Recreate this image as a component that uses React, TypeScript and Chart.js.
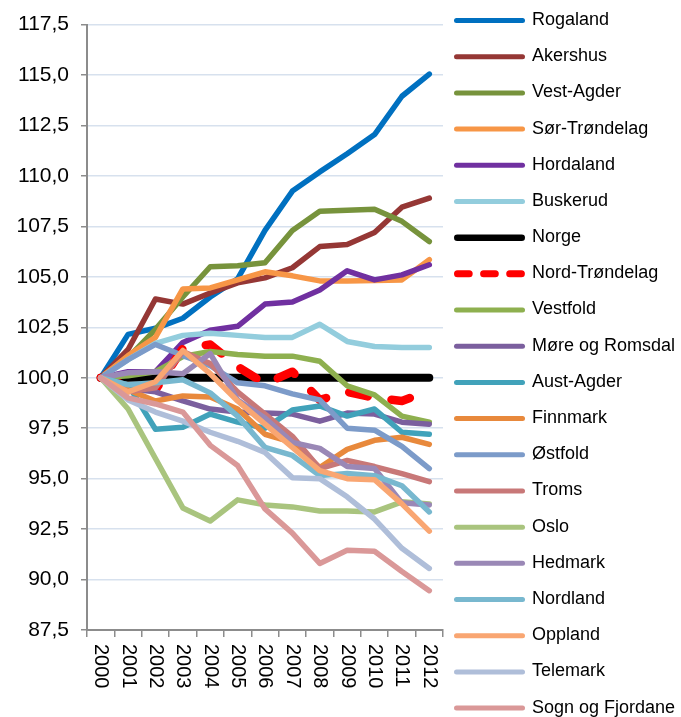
import React, { useEffect, useRef } from 'react';
import { Chart, registerables } from 'chart.js';

Chart.register(...registerables);

// ---------- DATA ----------
const YEARS = ['2000', '2001', '2002', '2003', '2004', '2005', '2006', '2007', '2008', '2009', '2010', '2011', '2012'];
const Y_TICKS = [87.5, 90, 92.5, 95, 97.5, 100, 102.5, 105, 107.5, 110, 112.5, 115, 117.5];

const ROGALAND = [100, 102.15, 102.45, 102.95, 104.0, 104.9, 107.3, 109.25, 110.2, 111.1, 112.05, 113.95, 115.05];
const AKERSHUS = [100, 101.4, 103.9, 103.65, 104.2, 104.7, 104.95, 105.45, 106.5, 106.6, 107.2, 108.45, 108.9];
const VEST_AGDER = [100, 101.0, 102.4, 104.0, 105.5, 105.55, 105.7, 107.3, 108.25, 108.3, 108.35, 107.75, 106.75];
const SOR_TRONDELAG = [100, 101.1, 102.0, 104.4, 104.45, 104.85, 105.25, 105.05, 104.8, 104.8, 104.82, 104.85, 105.85];
const HORDALAND = [100, 100.3, 100.3, 101.75, 102.35, 102.55, 103.65, 103.75, 104.35, 105.3, 104.85, 105.1, 105.6];
const BUSKERUD = [100, 100.9, 101.7, 102.1, 102.2, 102.1, 102.0, 102.0, 102.65, 101.8, 101.55, 101.5, 101.5];
const NORGE = [100, 100, 100, 100, 100, 100, 100, 100, 100, 100, 100, 100, 100];
const NORD_TRONDELAG = [100, 99.6, 99.4, 101.45, 101.65, 100.55, 99.7, 100.3, 98.9, 99.3, 99.0, 98.85, 99.35];
const VESTFOLD = [100, 100.1, 100.3, 101.05, 101.3, 101.15, 101.07, 101.07, 100.82, 99.6, 99.15, 98.1, 97.8];
const MORE_OG_ROMSDAL = [100, 99.45, 99.3, 98.85, 98.45, 98.3, 98.25, 98.2, 97.85, 98.25, 98.2, 97.8, 97.7];
const AUST_AGDER = [100, 99.65, 97.45, 97.55, 98.2, 97.8, 97.5, 98.4, 98.6, 98.1, 98.45, 97.3, 97.2];
const FINNMARK = [100, 99.4, 98.85, 99.1, 99.05, 98.45, 97.2, 96.8, 95.55, 96.45, 96.9, 97.05, 96.7];
const OSTFOLD = [100, 100.9, 101.65, 101.1, 100.6, 99.75, 99.6, 99.2, 98.9, 97.5, 97.4, 96.6, 95.5];
const TROMS = [100, 99.3, 99.5, 101.3, 100.7, 99.3, 98.2, 97.1, 95.5, 95.9, 95.6, 95.25, 94.85];
const OSLO = [100, 98.45, 96.0, 93.55, 92.9, 93.95, 93.7, 93.6, 93.4, 93.4, 93.35, 93.85, 93.75];
const HEDMARK = [100, 100.25, 100.3, 100.2, 101.2, 98.9, 98.0, 96.8, 96.5, 95.6, 95.5, 93.8, 93.7];
const NORDLAND = [100, 99.65, 99.75, 99.9, 99.25, 98.1, 96.55, 96.15, 95.15, 95.25, 95.15, 94.65, 93.35];
const OPPLAND = [100, 99.3, 99.8, 101.35, 100.2, 98.85, 97.7, 96.55, 95.4, 95.0, 94.95, 93.75, 92.4];
const TELEMARK = [100, 98.9, 98.3, 97.85, 97.3, 96.85, 96.3, 95.05, 95.0, 94.1, 93.0, 91.55, 90.55];
const SOGN_OG_FJORDANE = [100, 99.0, 98.7, 98.3, 96.65, 95.65, 93.5, 92.3, 90.8, 91.45, 91.4, 90.4, 89.45];

// ---------- STYLE ----------
type Series = {
  label: string;
  data: number[];
  color: string;
  width?: number;
  dash?: number[];
  legendWidth?: number;
  legendDash?: number[];
};

const SERIES: Series[] = [
  { label: 'Rogaland', data: ROGALAND, color: '#0070C0' },
  { label: 'Akershus', data: AKERSHUS, color: '#953735' },
  { label: 'Vest-Agder', data: VEST_AGDER, color: '#77933C' },
  { label: 'Sør-Trøndelag', data: SOR_TRONDELAG, color: '#F79646' },
  { label: 'Hordaland', data: HORDALAND, color: '#7030A0' },
  { label: 'Buskerud', data: BUSKERUD, color: '#93CDDD' },
  { label: 'Norge', data: NORGE, color: '#000000', width: 8, legendWidth: 6.5 },
  { label: 'Nord-Trøndelag', data: NORD_TRONDELAG, color: '#FF0000', width: 8.5, dash: [19, 24], legendWidth: 7, legendDash: [11.7, 14.4] },
  { label: 'Vestfold', data: VESTFOLD, color: '#8EB04F' },
  { label: 'Møre og Romsdal', data: MORE_OG_ROMSDAL, color: '#7B5F9E' },
  { label: 'Aust-Agder', data: AUST_AGDER, color: '#41A2BA' },
  { label: 'Finnmark', data: FINNMARK, color: '#E8893C' },
  { label: 'Østfold', data: OSTFOLD, color: '#7C9BC9' },
  { label: 'Troms', data: TROMS, color: '#C87878' },
  { label: 'Oslo', data: OSLO, color: '#A9C47E' },
  { label: 'Hedmark', data: HEDMARK, color: '#9A88B6' },
  { label: 'Nordland', data: NORDLAND, color: '#78B8CF' },
  { label: 'Oppland', data: OPPLAND, color: '#F9A672' },
  { label: 'Telemark', data: TELEMARK, color: '#AFBED9' },
  { label: 'Sogn og Fjordane', data: SOGN_OG_FJORDANE, color: '#DA9898' },
];

const FONT = '"Liberation Sans", Arial, Helvetica, sans-serif';
const W = 681;
const H = 717;
const PLOT_LEFT = 87;
const PLOT_RIGHT = 443;
const PLOT_TOP = 22;
const PLOT_BOTTOM = 630;
const AXIS_GREY = '#8C8C8C';
const GRID_BLUE = '#D7E1EE';

const fmt = (v: number) => v.toFixed(1).replace('.', ',');

// Legend drawn at the right, one row per series
const sideLegend = {
  id: 'sideLegend',
  afterDraw(chart: any) {
    const ctx = chart.ctx as CanvasRenderingContext2D;
    SERIES.forEach((s, i) => {
      const y = 20.5 + i * 36.19;
      const lw = s.legendWidth ?? 5;
      ctx.save();
      ctx.beginPath();
      ctx.strokeStyle = s.color;
      ctx.lineWidth = lw;
      ctx.lineCap = 'round';
      ctx.setLineDash(s.legendDash ?? []);
      ctx.moveTo(454 + lw / 2, y);
      ctx.lineTo(525 - lw / 2, y);
      ctx.stroke();
      ctx.setLineDash([]);
      ctx.fillStyle = '#000';
      ctx.font = `18px ${FONT}`;
      ctx.textAlign = 'left';
      ctx.textBaseline = 'middle';
      ctx.fillText(s.label, 532, y - 0.5);
      ctx.restore();
    });
  },
};

// Category labels rotated 90° clockwise (reading downward)
const rotatedXLabels = {
  id: 'rotatedXLabels',
  afterDraw(chart: any) {
    const ctx = chart.ctx as CanvasRenderingContext2D;
    const xs = chart.scales.x;
    const top = chart.chartArea.bottom + 14;
    const labels: string[] = chart.data.labels;
    labels.forEach((lab, i) => {
      const x = xs.getPixelForValue(i);
      ctx.save();
      ctx.translate(x, top);
      ctx.rotate(Math.PI / 2);
      ctx.fillStyle = '#000';
      ctx.font = `20px ${FONT}`;
      ctx.textAlign = 'left';
      ctx.textBaseline = 'middle';
      ctx.fillText(lab, 0, 0);
      ctx.restore();
    });
  },
};

export default function App() {
  const ref = useRef<HTMLCanvasElement | null>(null);

  useEffect(() => {
    if (!ref.current) return;
    const n = SERIES.length;
    const chart = new Chart(ref.current, {
      type: 'line',
      data: {
        labels: YEARS,
        datasets: SERIES.map((s, i) => ({
          label: s.label,
          data: s.data,
          borderColor: s.color,
          backgroundColor: s.color,
          borderWidth: s.width ?? 5.5,
          borderDash: s.dash ?? [],
          borderCapStyle: 'round',
          borderJoinStyle: 'round',
          pointRadius: 0,
          pointHoverRadius: 0,
          tension: 0,
          fill: false,
          order: n - i,
        })),
      },
      options: {
        responsive: false,
        animation: false,
        devicePixelRatio: 1,
        layout: {
          padding: { left: 0, top: PLOT_TOP, right: W - PLOT_RIGHT, bottom: 0 },
        },
        plugins: {
          legend: { display: false },
          tooltip: { enabled: false },
          title: { display: false },
        },
        scales: {
          x: {
            type: 'category',
            offset: true,
            grid: {
              offset: true,
              drawOnChartArea: false,
              drawTicks: true,
              tickLength: 7,
              tickColor: AXIS_GREY,
              lineWidth: 1.5,
            },
            border: { display: true, color: AXIS_GREY, width: 2 },
            ticks: { display: false },
            afterFit: (scale: any) => {
              scale.height = H - PLOT_BOTTOM;
            },
          },
          y: {
            type: 'linear',
            min: 87.5,
            max: 117.5,
            afterBuildTicks: (scale: any) => {
              scale.ticks = Y_TICKS.map((v) => ({ value: v }));
            },
            afterFit: (scale: any) => {
              scale.width = PLOT_LEFT;
            },
            grid: {
              color: GRID_BLUE,
              lineWidth: 1.5,
              drawTicks: true,
              tickLength: 6,
              tickColor: AXIS_GREY,
            },
            border: { display: true, color: AXIS_GREY, width: 2 },
            ticks: {
              padding: 12,
              color: '#000',
              font: { family: FONT, size: 21 },
              callback: (v: any) => fmt(Number(v)),
            },
          },
        },
      },
      plugins: [sideLegend, rotatedXLabels],
    } as any);
    return () => chart.destroy();
  }, []);

  return (
    <div style={{ position: 'fixed', left: 0, top: 0, width: W, height: H, background: '#fff', overflow: 'hidden' }}>
      <canvas ref={ref} width={W} height={H} style={{ display: 'block', width: W, height: H }} />
    </div>
  );
}
